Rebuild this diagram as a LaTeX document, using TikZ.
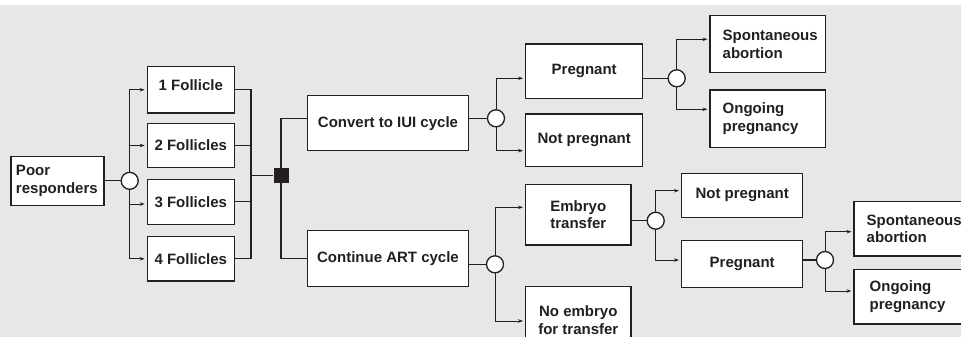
\documentclass[tikz,border=0pt]{standalone}
\usepackage{fontspec}
\setmainfont{Liberation Sans}
\usetikzlibrary{arrows.meta,calc}
\definecolor{bg}{HTML}{E6E7E8}
\definecolor{ink}{HTML}{231F20}
\begin{document}
\begin{tikzpicture}[x=1pt,y=-1pt,
  box/.style={draw=ink, line width=1.3pt, fill=white, rectangle, inner sep=0pt,
    font=\bfseries\fontsize{15}{17.7}\selectfont, text=ink, align=center},
  bx/.style 2 args={minimum width=#1pt, minimum height=#2pt},
  lt/.style={text width=#1pt, align=left},
  dot/.style={circle, draw=ink, line width=1.3pt, fill=white, minimum size=17pt, inner sep=0pt},
  sqr/.style={rectangle, fill=ink, minimum size=15pt, inner sep=0pt},
  con/.style={draw=ink, line width=1.1pt},
  arr/.style={draw=ink, line width=0.9pt, -{Stealth[length=5pt,width=3.5pt]}, shorten >=2pt}]
\useasboundingbox (0,0) rectangle (961,337);
\clip (0,0) rectangle (961,337);
\fill[bg] (0,5) rectangle (961,337);

% boxes
\node[box, bx={93}{49}, lt=83] (poor) at (57.5,180.8) {Poor\\responders};
\node[box, bx={87}{46.3}] (f1) at (190.8,89.8) {\raisebox{4.5pt}[\height][\depth]{1 Follicle}};
\node[box, bx={87}{44.4}] (f2) at (190.8,145.5) {2 Follicles};
\node[box, bx={87}{45}] (f3) at (190.8,201.8) {3 Follicles};
\node[box, bx={87}{44.3}] (f4) at (190.8,258.8) {4 Follicles};
\node[box, bx={161.4}{55}] (convert) at (388,123.2) {Convert to IUI cycle};
\node[box, bx={161.4}{56}] (continue) at (388,258.7) {Continue ART cycle};
\node[box, bx={117}{54.3}] (preg1) at (584.2,71.2) {Pregnant};
\node[box, bx={117}{52.7}] (notpreg1) at (584.2,140.3) {Not pregnant};
\node[box, bx={105.3}{60.7}] (embryo) at (578.3,214.7) {Embryo\\transfer};
\node[box, bx={105.3}{66.6}] (noembryo) at (578.3,320) {No embryo\\for transfer};
\node[box, bx={115.3}{57}, lt=90] (spont1) at (767.7,44.2) {Spontaneous\\abortion};
\node[box, bx={115.3}{57.3}, lt=90] (ongoing1) at (767.7,118.7) {Ongoing\\pregnancy};
\node[box, bx={121}{44}] (notpreg2) at (742.2,195.3) {Not pregnant};
\node[box, bx={121}{47}] (preg2) at (742.2,264.2) {Pregnant};
\node[box, bx={115.3}{54.3}, lt=90] (spont2) at (911.7,228.9) {Spontaneous\\abortion};
\node[box, bx={115.3}{54.7}, lt=84] (ongoing2) at (911.7,296.7) {Ongoing\\pregnancy};

% chance and decision nodes
\node[dot] (c1) at (129.7,180.8) {};
\node[dot] (c2) at (496,118.3) {};
\node[dot] (c3) at (495,264.3) {};
\node[dot] (c4) at (676.7,78.3) {};
\node[dot] (c5) at (655.7,220.7) {};
\node[dot] (c6) at (825,260) {};
\node[sqr] (sq) at (281,175.5) {};
\coordinate (bus) at (251,175.5);

% connectors
\draw[con] (poor.east) -- (c1);
\draw[arr] (c1) |- (f1.west);
\draw[arr] (c1.north) -- (c1.north |- f2.west) -- (f2.west);
\draw[arr] (c1.south) -- (c1.south |- 0,204) -- (f3.west |- 0,204);
\draw[arr] (c1) |- (f4.west);

\draw[con] (f1.east) -| (bus) -- (sq);
\draw[con] (f4.east) -| (bus);
\draw[con] (f2.east) -- (f2.east -| bus);
\draw[con] (f3.east) -- (f3.east -| bus);

\draw[con] (sq) |- (convert.west |- c2);
\draw[con] (sq) |- (continue.west);
\draw[con] (convert.east |- c2) -- (c2);
\draw[con] (continue.east |- c3) -- (c3);

\draw[arr] (c2) |- ([yshift=-7.1pt]preg1.west);
\draw[arr] (c2) |- ([yshift=-10.4pt]notpreg1.west);
\draw[con] (preg1.east |- c4) -- (c4);
\draw[arr] (c4) |- ([yshift=4.9pt]spont1.west);
\draw[arr] (c4) |- ([yshift=9.4pt]ongoing1.west);

\draw[arr] (c3) |- ([yshift=7.4pt]embryo.west);
\draw[arr] (c3) |- ([yshift=-1pt]noembryo.west);
\draw[con] (embryo.east |- c5) -- (c5);
\draw[arr] (c5) |- ([yshift=4.6pt]notpreg2.west);
\draw[arr] (c5) |- ([yshift=4.2pt]preg2.west);
\draw[con] (preg2.east |- c6) -- (c6);
\draw[arr] (c6) |- ([yshift=-2.8pt]spont2.west);
\draw[arr] (c6) |- ([yshift=5.7pt]ongoing2.west);
\end{tikzpicture}
\end{document}
